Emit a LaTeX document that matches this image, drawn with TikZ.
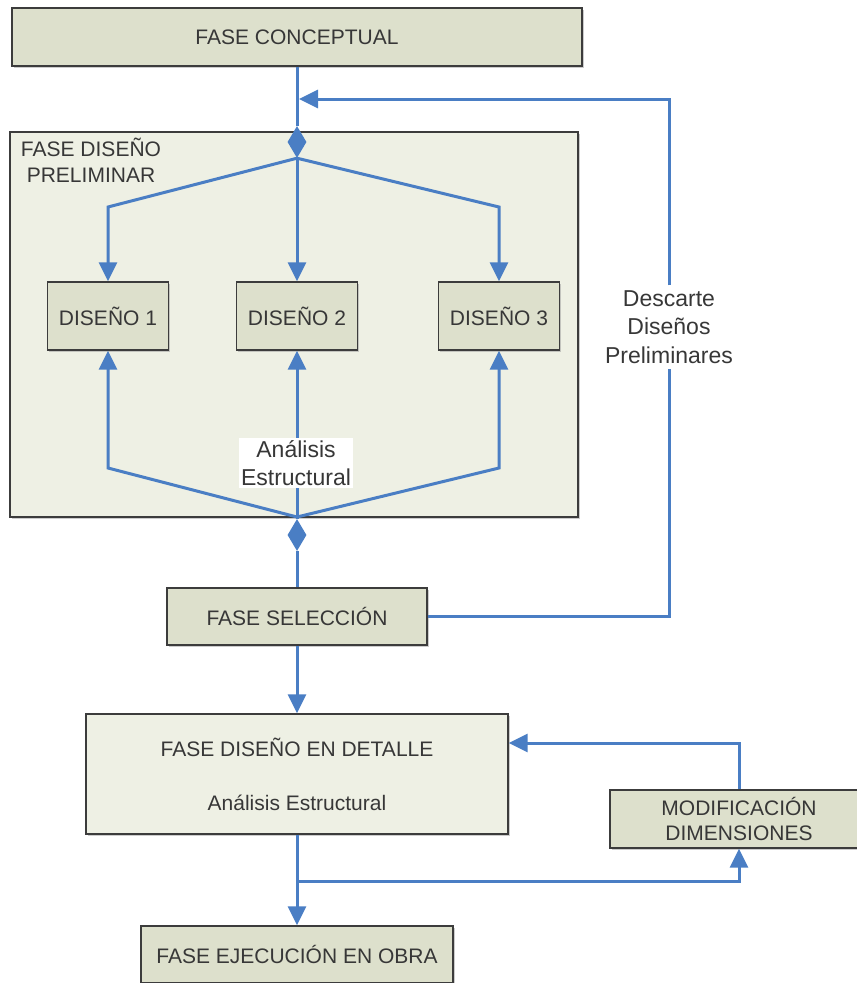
\documentclass[tikz,border=0pt]{standalone}
\usepackage{fontspec}
\setmainfont{Liberation Sans}
\usepackage{tikz}
\usetikzlibrary{arrows.meta,positioning,shapes.geometric,shadows}

\definecolor{azul}{RGB}{74,126,196}
\definecolor{verdoso}{RGB}{221,224,204}
\definecolor{claro}{RGB}{238,240,228}
\definecolor{borde}{RGB}{60,60,60}
\definecolor{texto}{RGB}{55,55,55}

\begin{document}
\begin{tikzpicture}[x=1pt,y=-1pt,
  fase/.style={draw=borde,fill=verdoso,line width=1.3pt,text=texto,
    font=\fontsize{21}{25}\selectfont,align=center,inner sep=0pt,
    drop shadow={shadow xshift=1.5pt,shadow yshift=-1.5pt,fill=black!40}},
  faseclara/.style={fase,fill=claro},
  flujo/.style={draw=azul,line width=3pt},
  flecha/.style={flujo,-{Triangle[length=19pt,width=18pt]}},
  rombo/.style={diamond,fill=azul,inner sep=0pt,minimum width=19pt,minimum height=32pt},
  rotulo/.style={text=texto,font=\fontsize{23}{28.5}\selectfont,align=center}]

  \useasboundingbox (0,0) rectangle (857,983);
  \clip (0,0) rectangle (857,983);

  % top phase
  \node[fase,minimum width=570pt,minimum height=58pt] (concepto) at (297,37) {FASE CONCEPTUAL};

  % preliminary design block
  \node[faseclara,minimum width=568pt,minimum height=385pt] (prelim) at (294,324.5) {};
  \node[text=texto,font=\fontsize{21}{26}\selectfont,align=center] (titulo) at (91,160) {FASE DISEÑO\\PRELIMINAR};

  \foreach \i/\x in {1/108,2/297,3/499} {
    \node[fase,minimum width=121pt,minimum height=68pt] (d\i) at (\x,316) {DISEÑO \i};
  }

  \node[rombo] (dtop) at (297,142) {};
  \node[rombo] (dbaja) at (297,535) {};
  \coordinate (abajo) at (297,517);
  \coordinate (retorno) at (299,99);

  % fan out to the designs
  \draw[flujo] (concepto.south) -- (dtop.north);
  \draw[flecha] (dtop.south) -- (108,207) -- (d1.north);
  \draw[flecha] (dtop.south) -- (d2.north);
  \draw[flecha] (dtop.south) -- (499,207) -- (d3.north);

  % structural analysis back up
  \draw[flecha] (abajo) -- (108,468) -- (d1.south);
  \draw[flecha] (abajo) -- (d2.south);
  \draw[flecha] (abajo) -- (499,468) -- (d3.south);
  \node[rotulo,fill=white,inner sep=2pt] (analisis) at (296,463) {Análisis\\Estructural};

  % selection
  \node[fase,minimum width=260pt,minimum height=57pt] (sel) at (297,616.5) {FASE SELECCIÓN};
  \draw[flujo] (abajo) -- (dbaja.north);
  \draw[flujo] (dbaja.south) -- (sel.north);

  % discarded designs go back
  \node[rotulo,inner sep=5pt] (descarte) at (669,327) {Descarte\\Diseños\\Preliminares};
  \draw[flujo] (sel.east) -| (descarte.south);
  \draw[flecha] (descarte.north) |- (retorno);

  % detailed design
  \node[faseclara,minimum width=422pt,minimum height=120pt] (det) at (297,774)
    {FASE DISEÑO EN DETALLE\\[29pt]Análisis Estructural};
  \draw[flecha] (sel.south) -- (det.north);

  \node[fase,minimum width=258pt,minimum height=58pt] (modif) at (739,819)
    {MODIFICACIÓN\\DIMENSIONES};
  \node[fase,minimum width=312pt,minimum height=57pt] (ejec) at (297,954.5)
    {FASE EJECUCIÓN EN OBRA};

  \coordinate (rama) at (297,881);
  \draw[flecha] (det.south) -- (ejec.north);
  \draw[flecha] (rama) -| (modif.south);
  \draw[flecha] (modif.north) |- ([yshift=31pt]det.east);

\end{tikzpicture}
\end{document}
